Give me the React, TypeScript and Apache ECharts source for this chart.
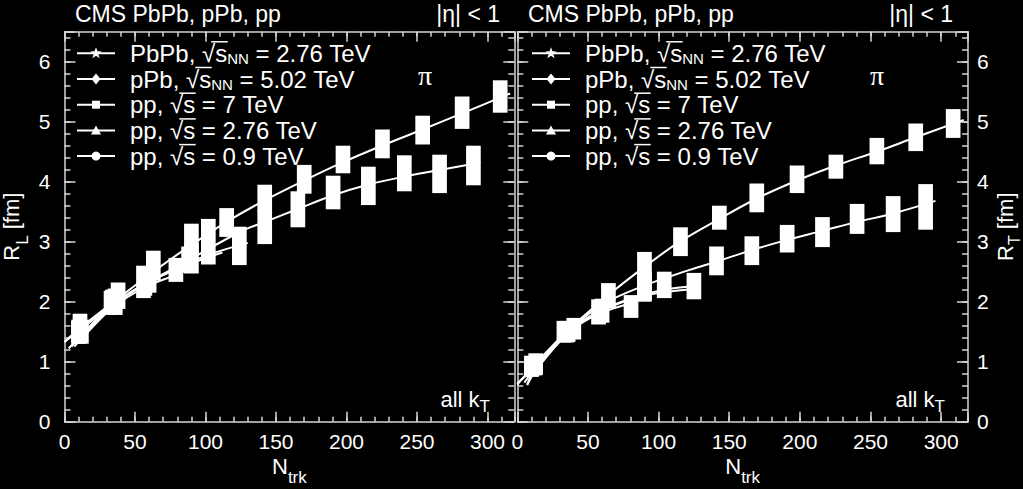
import React, { useEffect, useRef } from 'react';
import * as echarts from 'echarts';

// ---------------- data ----------------
const X_MAX = 319;
const Y_MAX = 6.5;
const xTickLabels = [0, 50, 100, 150, 200, 250, 300];
const yTickLabels = [0, 1, 2, 3, 4, 5, 6];

const seriesKeys = ['PbPb', 'pPb', 'pp7', 'pp276', 'pp09'];

// Left panel R_L : [Ntrk, R, systematic half-height]
const pbpbL = [[11, 1.58, 0.22], [38, 2.1, 0.22], [63, 2.6, 0.25], [90, 3.03, 0.27], [115, 3.32, 0.24], [142, 3.72, 0.23], [170, 4.04, 0.24], [197.5, 4.37, 0.23], [225.5, 4.63, 0.24], [254, 4.86, 0.24], [282, 5.15, 0.27], [309, 5.42, 0.27]];
const ppbL = [[12, 1.5, 0.2], [36, 2.0, 0.22], [56, 2.33, 0.27], [90, 2.72, 0.25], [142, 3.24, 0.28], [165.5, 3.54, 0.3], [190.5, 3.82, 0.28], [215.5, 3.93, 0.32], [241, 4.14, 0.3], [266, 4.13, 0.32], [290, 4.27, 0.33]];
const pp7L = [[10, 1.5, 0.2], [33, 1.98, 0.2], [57, 2.3, 0.2], [102, 3.0, 0.38], [124, 2.93, 0.32]];
const pp276L = [[10, 1.5, 0.18], [35, 2.0, 0.2], [60, 2.35, 0.2], [88, 2.7, 0.22]];
const pp09L = [[10, 1.48, 0.18], [34, 2.0, 0.2], [79, 2.53, 0.2]];

// Right panel R_T
const pbpbR = [[13, 0.96, 0.18], [40, 1.55, 0.18], [64.5, 2.1, 0.21], [90, 2.56, 0.27], [115.5, 3.0, 0.24], [143, 3.4, 0.2], [169.5, 3.73, 0.24], [198, 4.04, 0.23], [225.5, 4.25, 0.2], [254.5, 4.51, 0.22], [282, 4.74, 0.23], [308.5, 4.97, 0.24]];
const ppbR = [[12, 0.92, 0.15], [36, 1.5, 0.17], [90, 2.27, 0.24], [141, 2.68, 0.24], [166, 2.85, 0.24], [191, 3.05, 0.23], [216, 3.16, 0.25], [240.5, 3.38, 0.25], [266, 3.46, 0.3], [289, 3.58, 0.38]];
const pp7R = [[10, 0.95, 0.15], [33, 1.5, 0.18], [57.5, 1.83, 0.21], [104, 2.28, 0.22], [125, 2.26, 0.22]];
const pp276R = [[10, 0.9, 0.15], [35, 1.5, 0.18], [60, 1.85, 0.2], [90, 2.2, 0.2]];
const pp09R = [[10, 0.9, 0.15], [34, 1.5, 0.15], [80.5, 1.92, 0.19]];

// Fit curves
const fitPbPbL = [[0, 1.33], [11, 1.56], [35, 2.0], [63, 2.5], [89, 2.93], [115, 3.33], [142, 3.69], [170, 4.02], [198, 4.33], [225, 4.6], [254, 4.87], [282, 5.14], [316, 5.47]];
const fitpPbL = [[0, 1.33], [12, 1.55], [36, 1.98], [60, 2.33], [90, 2.72], [125, 3.17], [141, 3.32], [165, 3.54], [190, 3.77], [215, 3.95], [240, 4.08], [265, 4.19], [295, 4.32]];
const fitpp7L = [[3, 1.22], [10, 1.4], [33, 1.93], [57, 2.3], [79, 2.55], [102, 2.78], [130, 2.98]];
const fitpp276L = [[5, 1.25], [10, 1.38], [35, 1.95], [60, 2.33], [88, 2.62], [112, 2.82]];
const fitpp09L = [[7, 1.25], [10, 1.33], [34, 1.9], [58, 2.25], [80, 2.45]];

const fitPbPbR = [[0, 0.62], [13, 0.97], [37, 1.55], [64, 2.1], [90, 2.58], [115, 3.0], [143, 3.38], [169.5, 3.72], [198, 4.02], [225.5, 4.27], [254.5, 4.5], [282, 4.74], [316, 5.03]];
const fitpPbR = [[0, 0.64], [12, 0.9], [36, 1.5], [60, 1.95], [90, 2.27], [122, 2.53], [141, 2.67], [166, 2.86], [191, 3.03], [216, 3.18], [240.5, 3.33], [266, 3.47], [296, 3.68]];
const fitpp7R = [[5, 0.65], [13, 0.9], [33, 1.45], [57, 1.83], [80, 2.05], [104, 2.2], [130, 2.27]];
const fitpp276R = [[7, 0.61], [13, 0.85], [35, 1.45], [60, 1.85], [90, 2.1], [130, 2.22]];
const fitpp09R = [[7, 0.62], [12, 0.85], [34, 1.45], [58, 1.8], [85, 2.0]];

const legendPrefix: Record<string, string> = { PbPb: 'PbPb, ', pPb: 'pPb, ', pp7: 'pp, ', pp276: 'pp, ', pp09: 'pp, ' };
const legendTexts: Record<string, string> = {
  PbPb: '{t|PbPb, √}{t|s}{s|NN}{t| = 2.76 TeV}',
  pPb: '{t|pPb, √}{t|s}{s|NN}{t| = 5.02 TeV}',
  pp7: '{t|pp, √}{t|s = 7 TeV}',
  pp276: '{t|pp, √}{t|s = 2.76 TeV}',
  pp09: '{t|pp, √}{t|s = 0.9 TeV}',
};

// ---------------- styling ----------------
const FONT = '"Liberation Sans", Arial, Helvetica, sans-serif';
const SERIF = '"Liberation Serif", "Times New Roman", serif';
const AX = '#d4d4d4';
const BOX_HALF = 5.2;
const LEG_Y0 = 53.3;
const LEG_PITCH = 25.7;
const LEG_FONT = 24;
const TICK_FONT = 21;
const STAR = 'path://M0,-10L2.35,-3.24L9.51,-3.09L3.8,1.24L5.88,8.09L0,4L-5.88,8.09L-3.8,1.24L-9.51,-3.09L-2.35,-3.24Z';
const symbols: Record<string, string> = { PbPb: STAR, pPb: 'diamond', pp7: 'rect', pp276: 'triangle', pp09: 'circle' };

const panels = [
  { boxes: { PbPb: pbpbL, pPb: ppbL, pp7: pp7L, pp276: pp276L, pp09: pp09L } as Record<string, number[][]>,
    fits: { PbPb: fitPbPbL, pPb: fitpPbL, pp7: fitpp7L, pp276: fitpp276L, pp09: fitpp09L } as Record<string, number[][]> },
  { boxes: { PbPb: pbpbR, pPb: ppbR, pp7: pp7R, pp276: pp276R, pp09: pp09R } as Record<string, number[][]>,
    fits: { PbPb: fitPbPbR, pPb: fitpPbR, pp7: fitpp7R, pp276: fitpp276R, pp09: fitpp09R } as Record<string, number[][]> },
];

const nameRich = {
  m: { fontSize: 22, lineHeight: 34, color: '#fff', fontFamily: FONT },
  s: { fontSize: 17, lineHeight: 12, padding: [22, 0, 0, 0], color: '#fff', fontFamily: FONT },
};
const nameRichR = {
  m: { fontSize: 22, lineHeight: 30, color: '#fff', fontFamily: FONT },
  s: { fontSize: 16, lineHeight: 12, padding: [18, 0, 0, 0], color: '#fff', fontFamily: FONT },
};

const line = (show: boolean) => ({ show, onZero: false, lineStyle: { color: AX, width: 1.5 } });
const tick = (len: number) => ({ show: true, inside: true, length: len, lineStyle: { color: AX, width: 1.5 } });

function buildXAxes(grid: number) {
  const base = { type: 'value', gridIndex: grid, min: 0, max: X_MAX, splitLine: { show: false } };
  return [
    {
      ...base, position: 'bottom', interval: 50, axisLine: line(true), axisTick: tick(10),
      axisLabel: { show: true, color: '#fff', fontSize: TICK_FONT, fontFamily: FONT, margin: 9, formatter: (v: number) => (xTickLabels.includes(v) ? String(v) : '') },
      name: '{m|N}{s|trk}', nameLocation: 'middle', nameGap: 28, nameMoveOverlap: false, nameTextStyle: { rich: nameRich },
    },
    { ...base, position: 'bottom', interval: 10, axisLine: line(false), axisTick: tick(5), axisLabel: { show: false } },
    { ...base, position: 'top', interval: 50, axisLine: line(true), axisTick: tick(10), axisLabel: { show: false } },
    { ...base, position: 'top', interval: 10, axisLine: line(false), axisTick: tick(5), axisLabel: { show: false } },
  ];
}

function buildYAxes(grid: number) {
  const base = { type: 'value', gridIndex: grid, min: 0, max: Y_MAX, splitLine: { show: false } };
  const lbl = (show: boolean, margin: number) => ({
    show, color: '#fff', fontSize: TICK_FONT, fontFamily: FONT, margin,
    formatter: (v: number) => (yTickLabels.includes(v) ? String(v) : ''),
  });
  const leftName = grid === 0 ? { name: '{m|R}{s|L}{m| [fm]}', nameLocation: 'middle', nameRotate: 90, nameGap: 36, nameMoveOverlap: false, nameTextStyle: { rich: nameRich } } : {};
  const rightName = grid === 1 ? { name: '{m|R}{s|T}{m| [fm]}', nameLocation: 'middle', nameRotate: 90, nameGap: 22, nameMoveOverlap: false, nameTextStyle: { rich: nameRichR } } : {};
  return [
    { ...base, position: 'left', interval: 1, axisLine: line(true), axisTick: tick(11), axisLabel: lbl(grid === 0, 14), ...leftName },
    { ...base, position: 'left', interval: 0.2, axisLine: line(false), axisTick: tick(6), axisLabel: { show: false } },
    { ...base, position: 'right', interval: 1, axisLine: line(true), axisTick: tick(11), axisLabel: lbl(grid === 1, 9), ...rightName },
    { ...base, position: 'right', interval: 0.2, axisLine: line(false), axisTick: tick(6), axisLabel: { show: false } },
  ];
}

function buildSeries() {
  const out: any[] = [];
  panels.forEach((p, pi) => {
    const xi = pi * 4;
    const yi = pi === 0 ? 0 : 6;
    seriesKeys.forEach((k) => {
      out.push({
        name: k, type: 'line', xAxisIndex: xi, yAxisIndex: yi,
        data: p.boxes[k].map((d) => [d[0], d[1]]),
        symbol: symbols[k], symbolSize: 9, showSymbol: true,
        itemStyle: { color: '#fff' }, lineStyle: { width: 0, opacity: 0 }, z: 4, silent: true,
      });
      out.push({
        name: k + ' sys', type: 'custom', xAxisIndex: xi, yAxisIndex: yi, data: p.boxes[k], z: 3, silent: true,
        encode: { x: 0, y: 1 },
        renderItem: (_params: any, api: any) => {
          const x = api.value(0); const y = api.value(1); const e = api.value(2);
          const a = api.coord([x - BOX_HALF, y + e]);
          const b = api.coord([x + BOX_HALF, y - e]);
          return { type: 'rect', shape: { x: a[0], y: a[1], width: b[0] - a[0], height: b[1] - a[1] }, style: { fill: '#fff' } };
        },
      });
      out.push({
        name: k + ' fit', type: 'line', xAxisIndex: xi, yAxisIndex: yi, data: p.fits[k],
        smooth: 0.35, showSymbol: false, symbol: 'none', lineStyle: { color: '#fff', width: 2 }, z: 5, silent: true,
      });
    });
  });
  return out;
}

const legendRich = {
  t: { fontSize: LEG_FONT, lineHeight: 24, fill: '#fff', fontFamily: FONT },
  s: { fontSize: 15, lineHeight: 10, padding: [11, 0, 0, 0], fill: '#fff', fontFamily: FONT },
};

function markerEl(k: string, x: number, y: number) {
  const st = { fill: '#fff' };
  if (k === 'PbPb') {
    const pts: number[][] = [];
    for (let i = 0; i < 10; i++) {
      const r = i % 2 === 0 ? 6 : 2.5;
      const a = -Math.PI / 2 + (i * Math.PI) / 5;
      pts.push([x + r * Math.cos(a), y + r * Math.sin(a)]);
    }
    return { type: 'polygon', silent: true, shape: { points: pts }, style: st };
  }
  if (k === 'pPb') return { type: 'polygon', silent: true, shape: { points: [[x, y - 5.5], [x + 4.5, y], [x, y + 5.5], [x - 4.5, y]] }, style: st };
  if (k === 'pp7') return { type: 'rect', silent: true, shape: { x: x - 4, y: y - 4, width: 8, height: 8 }, style: st };
  if (k === 'pp276') return { type: 'polygon', silent: true, shape: { points: [[x, y - 5], [x + 5, y + 4], [x - 5, y + 4]] }, style: st };
  return { type: 'circle', silent: true, shape: { cx: x, cy: y, r: 4.5 }, style: st };
}

function legendEls(left: number) {
  const canvas = document.createElement('canvas');
  const ctx = canvas.getContext('2d');
  const textX = left + 53;
  const els: any[] = [];
  seriesKeys.forEach((k, i) => {
    const yc = LEG_Y0 + i * LEG_PITCH;
    els.push({ type: 'line', silent: true, shape: { x1: left, y1: yc, x2: left + 38, y2: yc }, style: { stroke: '#fff', lineWidth: 2 } });
    els.push(markerEl(k, left + 19, yc));
    els.push({
      type: 'text', x: textX, y: yc, silent: true,
      style: { text: legendTexts[k], textAlign: 'left', textVerticalAlign: 'middle', fill: '#fff', fontFamily: FONT, fontSize: LEG_FONT, rich: legendRich },
    });
    if (ctx) {
      ctx.font = `${LEG_FONT}px "Liberation Sans"`;
      const wRoot = ctx.measureText('√').width;
      const wS = ctx.measureText('s').width;
      const xRoot = textX + ctx.measureText(legendPrefix[k]).width;
      els.push({
        type: 'line', silent: true,
        shape: { x1: xRoot + wRoot * 0.7, y1: yc - 11.5, x2: xRoot + wRoot + wS + 0.5, y2: yc - 11.5 },
        style: { stroke: '#fff', lineWidth: 1.5 },
      });
    }
  });
  return els;
}

function textEl(text: string, x: number, y: number, align: string, fontSize: number, family = FONT) {
  return { type: 'text', x, y, silent: true, style: { text, fill: '#fff', fontSize, fontFamily: family, textAlign: align, textVerticalAlign: 'middle' } };
}

function kTEl(xRight: number) {
  return {
    type: 'text', x: xRight, y: 386, silent: true,
    style: {
      text: '{a|all k}{b|T}', textAlign: 'right', textVerticalAlign: 'top', fill: '#fff',
      rich: {
        a: { fontSize: 22, lineHeight: 26, fill: '#fff', fontFamily: FONT },
        b: { fontSize: 17, lineHeight: 12, padding: [14, 0, 0, 0], fill: '#fff', fontFamily: FONT },
      },
    },
  };
}

export default function App() {
  const ref = useRef<HTMLDivElement>(null);
  useEffect(() => {
    if (!ref.current) return;
    const chart = echarts.init(ref.current, undefined, { renderer: 'svg' });
    chart.setOption({
      animation: false,
      backgroundColor: '#000',
      textStyle: { fontFamily: FONT },
      grid: [
        { left: 64.5, top: 31.7, width: 449.8, height: 390, outerBoundsMode: 'none', containLabel: false },
        { left: 517.3, top: 31.7, width: 450.7, height: 390, outerBoundsMode: 'none', containLabel: false },
      ],
      xAxis: [...buildXAxes(0), ...buildXAxes(1)],
      yAxis: [...buildYAxes(0), ...buildYAxes(1)],
      series: buildSeries(),
      graphic: [
        textEl('CMS PbPb, pPb, pp', 75, 13.5, 'left', 23),
        textEl('|η| < 1', 500, 13.5, 'right', 23),
        textEl('CMS PbPb, pPb, pp', 528, 13.5, 'left', 23),
        textEl('|η| < 1', 953, 13.5, 'right', 23),
        textEl('π', 425, 75, 'center', 28, SERIF),
        textEl('π', 877, 75, 'center', 28, SERIF),
        kTEl(490),
        kTEl(945),
        ...legendEls(77),
        ...legendEls(532),
      ],
    });
    return () => chart.dispose();
  }, []);
  return <div ref={ref} style={{ position: 'fixed', left: 0, top: 0, width: 1023, height: 489, background: '#000' }} />;
}
